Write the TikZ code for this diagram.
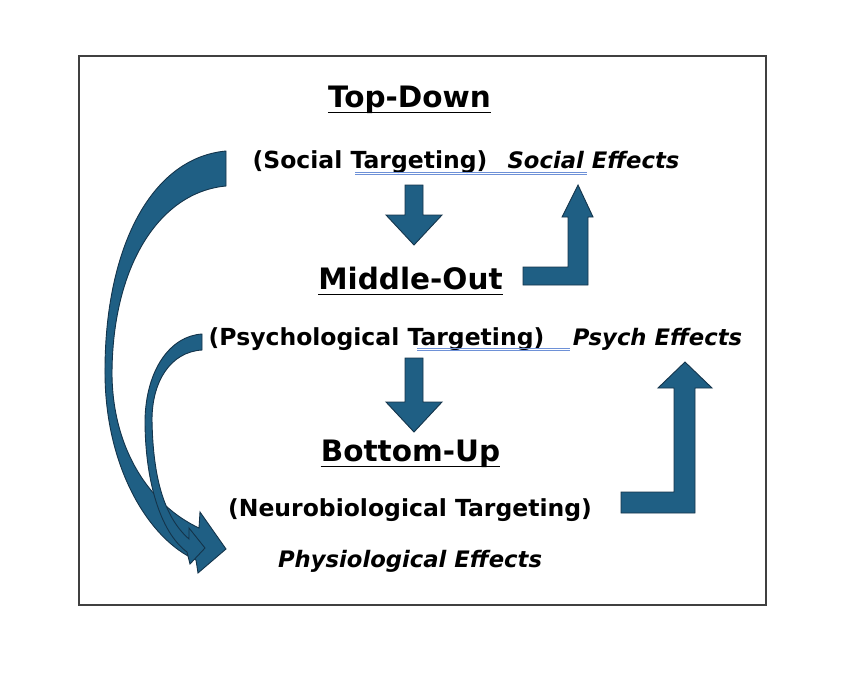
\documentclass[tikz,border=0pt]{standalone}
\usepackage{fontspec}
\setmainfont{DejaVu Sans}
\begin{document}
\begin{tikzpicture}[x=1pt,y=-1pt,
  blk/.style={fill={rgb,255:red,31;green,95;blue,132},draw={rgb,255:red,20;green,52;blue,75},line width=0.9pt,line join=miter},
  head/.style={font=\bfseries\fontsize{29.5}{34}\selectfont,anchor=base,inner sep=0pt},
  sub/.style={font=\bfseries\fontsize{23.5}{28}\selectfont,anchor=base,inner sep=0pt},
  eff/.style={font=\bfseries\itshape\fontsize{22.7}{27}\selectfont,anchor=base,inner sep=0pt},
  ul/.style={line width=1.8pt,black},
  spell/.style={line width=0.6pt,draw={rgb,255:red,110;green,145;blue,215}}]
\useasboundingbox (0,0) rectangle (857,683);
\draw[line width=2pt,draw={rgb,255:red,64;green,64;blue,64}] (79,56) rectangle (766,605);

% texts
\node[head] (td) at (409.5,107) {Top-Down};
\node[sub] (st) at (370,168) {(Social Targeting)};
\node[eff] (se) at (593.5,168) {Social Effects};
\node[head] (mo) at (410.5,289) {Middle-Out};
\node[sub] (pt) at (376.5,345) {(Psychological Targeting)};
\node[eff] (pe) at (657.5,345) {Psych Effects};
\node[head] (bu) at (410.5,461) {Bottom-Up};
\node[sub] (nt) at (410,516) {(Neurobiological Targeting)};
\node[eff] (phe) at (410,567) {Physiological Effects};

% underlines
\draw[ul] (td.base west) ++(0,5.5) -- ([yshift=-5.5pt]td.base east);
\draw[ul] (mo.base west) ++(0,5.5) -- ([yshift=-5.5pt]mo.base east);
\draw[ul] (bu.base west) ++(0,5.5) -- ([yshift=-5.5pt]bu.base east);
% spell-check lines
\draw[spell] (355,172.5) -- (587,172.5);
\draw[spell] (355,174.5) -- (587,174.5);
\draw[spell] (417,348.5) -- (570,348.5);
\draw[spell] (417,350.5) -- (570,350.5);

% straight down arrows
\draw[blk] (405,185) -- (423,185) -- (423,215) -- (442,215) -- (414,245) -- (386,215) -- (405,215) -- cycle;
\draw[blk] (405,358) -- (423,358) -- (423,402) -- (442,402) -- (414,432) -- (386,402) -- (405,402) -- cycle;

% elbow arrows
\draw[blk] (523,267) -- (568,267) -- (568,217) -- (562,217) -- (578,185) -- (593,217) -- (588,217) -- (588,285) -- (523,285) -- cycle;
\draw[blk] (621,492) -- (674,492) -- (674,388) -- (658,388) -- (685,362) -- (712,388) -- (695,388) -- (695,513) -- (621,513) -- cycle;

% curved arrows
\draw[blk] (226,151) .. controls (150,158) and (104,250) .. (105,375)
  .. controls (106,470) and (150,540) .. (196,560) -- (198,573) -- (226,549) -- (200,512) -- (199,528)
  .. controls (150,505) and (113,450) .. (112,375)
  .. controls (112,265) and (160,192) .. (226,186) -- cycle;
\draw[blk] (202,334) .. controls (170,336) and (146,370) .. (145,420)
  .. controls (145,480) and (160,532) .. (187,552) -- (190,564) -- (205,548) -- (189,528) -- (189,539)
  .. controls (165,518) and (153,480) .. (152,420)
  .. controls (152,382) and (170,352) .. (202,350) -- cycle;
\end{tikzpicture}
\end{document}
